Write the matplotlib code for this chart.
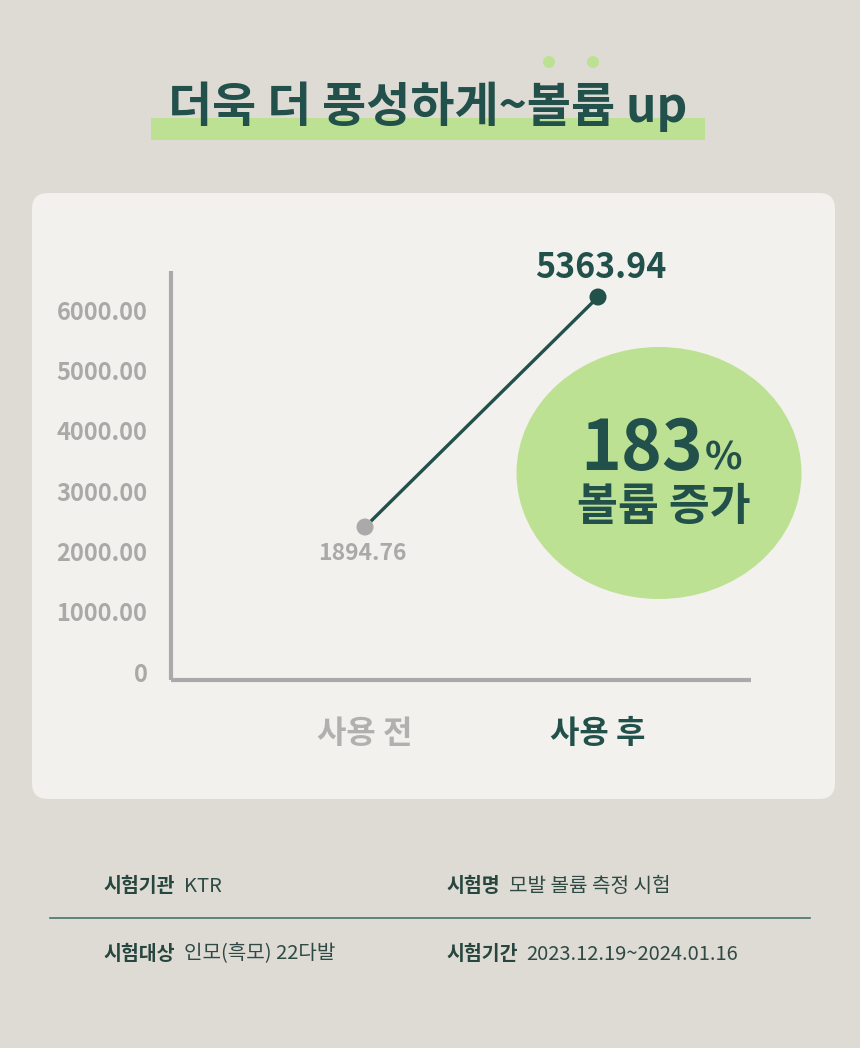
import matplotlib
matplotlib.use("Agg")
import matplotlib.pyplot as plt
from matplotlib.patches import FancyBboxPatch, Ellipse, Rectangle, Circle

plt.rcParams['font.family'] = ['Noto Sans CJK KR', 'DejaVu Sans']

# ---- data ----
categories = ["사용 전", "사용 후"]
values = [1894.76, 5363.94]
value_labels = ["1894.76", "5363.94"]
y_ticks = [0, 1000, 2000, 3000, 4000, 5000, 6000]
y_tick_labels = ["0", "1000.00", "2000.00", "3000.00", "4000.00", "5000.00", "6000.00"]
title = "더욱 더 풍성하게~볼륨 up"
badge_number = "183"
badge_unit = "%"
badge_text = "볼륨 증가"
info_rows = [
    [("시험기관", "KTR"), ("시험명", "모발 볼륨 측정 시험")],
    [("시험대상", "인모(흑모) 22다발"), ("시험기간", "2023.12.19~2024.01.16")],
]

# ---- colours ----
BG = "#dedbd4"
CARD = "#f2f1ed"
DARK = "#22504a"
GRAY = "#a9a9a7"
GREEN = "#bde193"

W, H = 860, 1048
fig = plt.figure(figsize=(W / 100, H / 100), dpi=100)
fig.patch.set_facecolor(BG)

# background drawing layer in pixel coordinates
bg = fig.add_axes([0, 0, 1, 1])
bg.set_xlim(0, W)
bg.set_ylim(H, 0)
bg.axis("off")

# title highlight + dots
bg.add_patch(Rectangle((151, 118), 554, 22, facecolor=GREEN, edgecolor="none", zorder=1))
bg.add_patch(Circle((549, 62), 6, facecolor=GREEN, edgecolor="none", zorder=1))
bg.add_patch(Circle((593, 62), 6, facecolor=GREEN, edgecolor="none", zorder=1))
bg.text(428, 107, title, ha="center", va="center", fontsize=34.5, fontweight="bold",
        color=DARK, zorder=2)

# card
bg.add_patch(FancyBboxPatch((32, 193), 803, 606, boxstyle="round,pad=0,rounding_size=16",
                            facecolor=CARD, edgecolor="none", zorder=1))

# badge ellipse
bg.add_patch(Ellipse((659, 473), 285, 252, facecolor=GREEN, edgecolor="none", zorder=2))
bg.text(703, 470, badge_number, ha="right", va="baseline", fontsize=50, fontweight="heavy",
        color=DARK, zorder=3)
bg.text(705, 470, badge_unit, ha="left", va="baseline", fontsize=28, fontweight="bold",
        color=DARK, zorder=3)
bg.text(664, 507, badge_text, ha="center", va="center", fontsize=32, fontweight="bold",
        color=DARK, zorder=3)

# info table
bg.plot([50, 810], [918, 918], color="#4a7370", lw=1.2, zorder=2)
row_y = [886, 954]
col_x = [103, 446]
fig.canvas.draw()
renderer = fig.canvas.get_renderer()
for r, row in enumerate(info_rows):
    for c, (lab, val) in enumerate(row):
        t = bg.text(col_x[c], row_y[r], lab, ha="left", va="center", fontsize=14,
                    fontweight="bold", color="#27463f", zorder=3)
        bb = t.get_window_extent(renderer=renderer)
        bg.text(bb.x1 + 9, row_y[r], val, ha="left", va="center", fontsize=14.5,
                fontweight="normal", color="#2f4a45", zorder=3)

# ---- chart axes ----
AX_L, AX_R, AX_T, AX_B = 171, 751, 271, 680
ax = fig.add_axes([AX_L / W, 1 - AX_B / H, (AX_R - AX_L) / W, (AX_B - AX_T) / H])
ax.patch.set_alpha(0)
for s in ["top", "right"]:
    ax.spines[s].set_visible(False)
for s in ["left", "bottom"]:
    ax.spines[s].set_color("#aaaaaa")
    ax.spines[s].set_linewidth(3)
    ax.spines[s].set_capstyle("butt")

# tick scale: 0 at pixel 672, 60.33 px per 1000
px_per_unit = 60.33 / 1000
ax.set_ylim(-(AX_B - 672) / px_per_unit, (672 - AX_T) / px_per_unit)
ax.set_yticks(y_ticks)
ax.set_yticklabels(y_tick_labels)
ax.tick_params(axis="y", length=0, pad=17, labelsize=17, labelcolor=GRAY)
for lbl in ax.get_yticklabels():
    lbl.set_fontweight("bold")

# x positions: index 0 -> pixel 365, index 1 -> pixel 598
xs = list(range(len(categories)))
step = 598 - 365
ax.set_xlim(-(365 - AX_L) / step, 1 + (AX_R - 598) / step)
ax.set_xticks(xs)
ax.set_xticklabels(categories)
ax.tick_params(axis="x", length=0, pad=27, labelsize=23)
xl = ax.get_xticklabels()
xl[0].set_color("#b0b0ae")
xl[1].set_color(DARK)
for lbl in xl:
    lbl.set_fontweight("bold")

# line on its own (hidden) scale, as in the design
ax2 = ax.twinx()
ax2.patch.set_alpha(0)
for s in ax2.spines.values():
    s.set_visible(False)
ax2.set_yticks([])
f0 = (AX_B - 527) / (AX_B - AX_T)
f1 = (AX_B - 297) / (AX_B - AX_T)
span = (values[1] - values[0]) / (f1 - f0)
ymin = values[0] - f0 * span
ax2.set_ylim(ymin, ymin + span)

ax2.plot(xs, values, color=DARK, lw=2.4, zorder=3, solid_capstyle="round")
ax2.scatter([xs[0]], [values[0]], s=150, color="#aaaaaa", zorder=4, edgecolors="none")
ax2.scatter([xs[1]], [values[1]], s=150, color=DARK, zorder=4, edgecolors="none")
ax2.annotate(value_labels[0], (xs[0], values[0]), xytext=(-2, -19), textcoords="offset points",
             ha="center", va="center", fontsize=16.5, fontweight="semibold", color=GRAY)
ax2.annotate(value_labels[1], (xs[1], values[1]), xytext=(2, 21), textcoords="offset points",
             ha="center", va="center", fontsize=24.5, fontweight="bold", color=DARK)

fig.savefig("out.png", dpi=100, facecolor=BG)
